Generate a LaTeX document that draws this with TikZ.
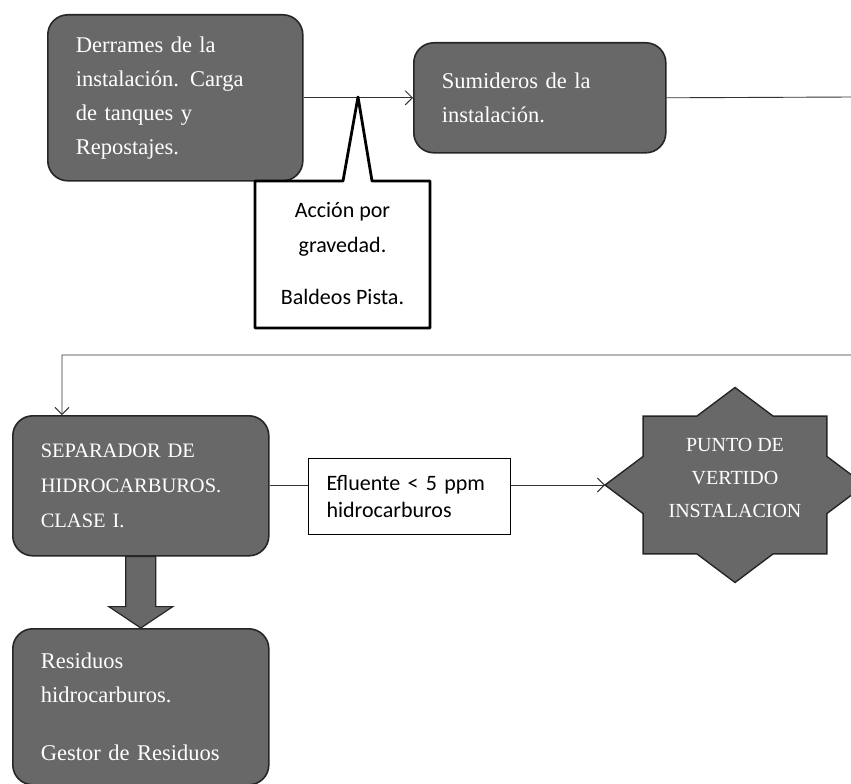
\documentclass[tikz,border=0pt]{standalone}
\usepackage{fontspec}
\setmainfont{Liberation Serif}
\newfontfamily\calib{Carlito}
\usetikzlibrary{arrows.meta,calc}
\definecolor{boxgray}{RGB}{104,104,104}
\begin{document}
\begin{tikzpicture}[x=1pt,y=-1pt,
  graybox/.style={draw=black!85,line width=1.6pt,fill=boxgray,rounded corners=20pt,
    text=white,align=left,inner xsep=28pt,inner ysep=0pt,anchor=north west,
    font=\fontsize{22.5}{34}\selectfont},
  capsfont/.style={font=\fontsize{20.5}{35}\selectfont},
  conn/.style={draw=black!80,line width=0.9pt},
  tipopen/.style={-{Straight Barb[length=7pt,width=14pt,line width=1pt]}},
  calltext/.style={align=center,font=\calib\fontsize{22}{35}\selectfont},
  startext/.style={align=center,text=white,font=\fontsize{20}{33}\selectfont},
  starshape/.style={draw=black!85,line width=1.4pt,fill=boxgray,line join=miter},
  blockarr/.style={draw=black!85,line width=1.2pt,fill=boxgray,line join=miter}
]
\useasboundingbox (0,0) rectangle (851,784);

% boxes
\node[graybox,text width=199pt,minimum height=166pt] (box1) at (47,14)
  {Derrames de la\\instalación. Carga\\de tanques y\\Repostajes.};
\node[graybox,text width=196pt,minimum height=110pt] (box2) at (413,42)
  {Sumideros de la\\instalación.};
\node[graybox,capsfont,text width=200pt,minimum height=140pt] (box3) at (12,415)
  {SEPARADOR DE\\HIDROCARBUROS.\\CLASE I.};
\node[graybox,text width=200pt,minimum height=156pt] (box4) at (12,628)
  {Residuos\\hidrocarburos.\\[24pt]Gestor de Residuos};

% effluent box
\node[draw=black,line width=1.2pt,anchor=north west,text width=166pt,inner xsep=18pt,
  inner ysep=0pt,minimum height=76pt,align=left,font=\calib\fontsize{22}{27}\selectfont]
  (eff) at (308,458) {Efluente < 5 ppm\\hidrocarburos};

% star
\begin{scope}[shift={(735,485)}]
\draw[starshape] (0:130pt and 97.5pt) -- (22.5:99.45pt and 74.6pt)
 -- (45:130pt and 97.5pt) -- (67.5:99.45pt and 74.6pt)
 -- (90:130pt and 97.5pt) -- (112.5:99.45pt and 74.6pt)
 -- (135:130pt and 97.5pt) -- (157.5:99.45pt and 74.6pt)
 -- (180:130pt and 97.5pt) -- (202.5:99.45pt and 74.6pt)
 -- (225:130pt and 97.5pt) -- (247.5:99.45pt and 74.6pt)
 -- (270:130pt and 97.5pt) -- (292.5:99.45pt and 74.6pt)
 -- (315:130pt and 97.5pt) -- (337.5:99.45pt and 74.6pt) -- cycle;
\end{scope}
\coordinate (starL) at (605,485);
\node[startext] (star) at (735,478) {PUNTO DE\\VERTIDO\\INSTALACION};

% connectors
\coordinate (ctip) at (358,97);
\draw[conn,tipopen] (box1.east) -- (box2.west);

\coordinate (turnA) at (853,97);
\coordinate (turnB) at (853,355);
\coordinate (turnC) at (62,355);
\coordinate (in3) at (62,415);
\draw[conn,tipopen] (box2.east) -- (turnA) -- (turnB) -- (turnC) -- (in3);

\draw[conn] (box3.east) -- (box3.east -| eff.west);
\draw[conn,tipopen] (eff.east |- starL) -- (starL);

% block arrow
\draw[blockarr] ($(box3.south)+(-15,0)$) -- ($(box3.south)+(15,0)$)
  -- ($(box3.south)+(15,50)$) -- ($(box3.south)+(32,50)$) -- (box4.north)
  -- ($(box3.south)+(-32,50)$) -- ($(box3.south)+(-15,50)$) -- cycle;

% callout
\draw[line width=2.8pt,fill=white,line join=round]
  (255,181) -- (343,181) -- (ctip) -- (372,181) -- (430,181) -- (430,328) -- (255,328) -- cycle;
\node[calltext] (call) at (342.5,254) {Acción por\\gravedad.\\[17pt]Baldeos Pista.};
\end{tikzpicture}
\end{document}
